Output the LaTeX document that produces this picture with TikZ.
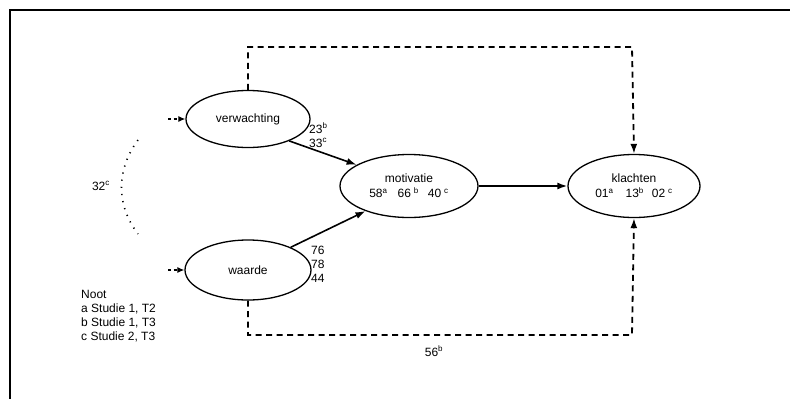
\documentclass[tikz,border=0pt]{standalone}
\usepackage{fontspec}
\setmainfont{Liberation Sans}
\usetikzlibrary{shapes.geometric,arrows.meta}
\newcommand{\sps}[1]{\textsuperscript{#1}}
\begin{document}
\begin{tikzpicture}[x=1pt,y=-1pt,
  every node/.style={font=\fontsize{12}{14}\selectfont},
  var/.style={draw,ellipse,line width=1.3pt,inner sep=0pt,align=center},
  arr/.style={line width=1.6pt,-{Latex[length=10pt,width=7pt]}},
  dsh/.style={line width=1.8pt,dash pattern=on 6pt off 4.5pt,-{Latex[length=10pt,width=7pt]}},
  lab/.style={inner sep=0pt,align=left,anchor=west}]
\useasboundingbox (0,0) rectangle (790,399);
\draw[line width=1.8pt] (10,399) -- (10,10) -- (790,10);
\node[var,minimum width=124pt,minimum height=57pt] (verw) at (248,119) {verwachting};
\node[var,minimum width=126pt,minimum height=60pt] (waar) at (248,270) {waarde};
\node[var,minimum width=138pt,minimum height=63pt] (motiv) at (409,186) {motivatie\\[1pt]58\sps{a}\hspace{10pt}66\hspace{3pt}\sps{b}\hspace{9pt}40\hspace{3pt}\sps{c}};
\node[var,minimum width=132pt,minimum height=63pt] (klach) at (634,186) {klachten\\[1pt]01\sps{a}\hspace{12pt}13\sps{b}\hspace{8pt}02\hspace{3pt}\sps{c}};
% structural arrows
\draw[arr] (verw.-28) -- (motiv.158);
\draw[arr] (waar.28) -- (motiv.-150);
\draw[arr] (motiv) -- (klach);
% labels
\node[lab] (l1) at (309,135) {23\sps{b}\\33\sps{c}};
\node[lab] (l2) at (311,264) {76\\78\\44};
% dashed paths
\coordinate (tc) at (632,47);
\coordinate (bc) at (632,335);
\draw[dsh] (verw.north) |- (tc) -- (klach.north);
\draw[dsh] (waar.south) |- (bc) -- (klach.south);
\node (l3) at (434,351) {56\sps{b}};
% correlation
\coordinate (ca) at (138,140);
\coordinate (cb) at (138,234);
\draw[line width=1.6pt,dash pattern=on 1.2pt off 6pt] (ca) .. controls (116,170) and (116,205) .. (cb);
\node (l4) at (101,186) {32\sps{c}};
\coordinate (vin) at (168,119);
\coordinate (win) at (168,270);
\draw[line width=1.2pt,dash pattern=on 3pt off 2.5pt,-{Latex[length=7pt,width=6pt]}] (vin) -- (verw.west);
\draw[line width=1.2pt,dash pattern=on 3pt off 2.5pt,-{Latex[length=7pt,width=6pt]}] (win) -- (waar.west);
% note
\node[lab,anchor=north west] (noot) at (81,290) {Noot\\a Studie 1, T2\\b Studie 1, T3\\c Studie 2, T3};
\end{tikzpicture}
\end{document}
